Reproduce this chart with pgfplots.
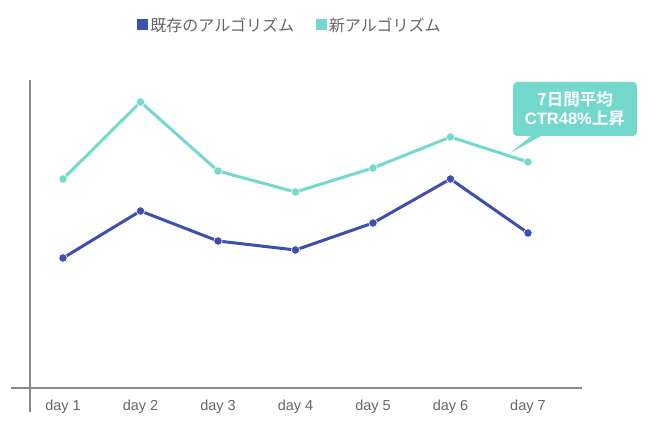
\documentclass[border=0pt]{standalone}
\usepackage{pgfplots}
\pgfplotsset{compat=1.18}
\usepackage{fontspec}
\setmainfont{Liberation Sans}
\newfontfamily\jp{Noto Sans CJK JP}[BoldFont=* Bold]
\definecolor{oldc}{HTML}{3F4FB0}
\definecolor{newc}{HTML}{74D9CC}
\definecolor{txt}{HTML}{666666}
\definecolor{axc}{HTML}{888888}
\begin{document}
\begin{tikzpicture}
\begin{axis}[
  scale only axis, width=571pt, height=308pt,
  xmin=-0.671, xmax=6.697, ymin=0, ymax=30.8,
  axis line style={draw=none},
  tick style={draw=none},
  ytick=\empty,
  xtick={0,1,2,3,4,5,6},
  xticklabels={day 1,day 2,day 3,day 4,day 5,day 6,day 7},
  xticklabel style={font=\fontsize{14.5}{16}\selectfont, text=txt, yshift=-8pt},
  clip=false,
  legend columns=2,
  legend style={at={(rel axis cs:0.4886,1.1786)}, anchor=center, draw=none, fill=none,
    font=\jp\fontsize{16}{18}\selectfont, text=txt,
    /tikz/every even column/.style={column sep=20pt}},
  legend image code/.code={\fill[#1, draw=none] (0pt,-5.5pt) rectangle (11pt,5.5pt);},
]
\path (rel axis cs:-0.019264,-0.149351) rectangle (rel axis cs:1.119089,1.259740);
\draw[axc, line width=1.3pt] (axis cs:-0.671,0) -- (axis cs:6.697,0);
\draw[axc, line width=1.3pt] (axis cs:-0.426,30.8) -- (axis cs:-0.426,-2.4);
\addplot[oldc, line width=3pt, mark=*, mark size=4.2pt, mark options={fill=oldc, draw=white, line width=0.6pt}]
  coordinates {(0,13.0) (1,17.7) (2,14.7) (3,13.8) (4,16.5) (5,20.9) (6,15.5)};
\addlegendentry{既存のアルゴリズム}
\addplot[newc, line width=3pt, mark=*, mark size=4.2pt, mark options={fill=newc, draw=white, line width=0.6pt}]
  coordinates {(0,20.9) (1,28.6) (2,21.7) (3,19.6) (4,22.0) (5,25.1) (6,22.6)};
\addlegendentry{新アルゴリズム}
\fill[newc] (axis cs:6.09,25.5) -- (axis cs:5.77,23.5) -- (axis cs:6.24,25.5) -- cycle;
\node[fill=newc, rounded corners=4pt, minimum width=124pt, minimum height=54pt, inner sep=2pt,
  text=white, align=center, font=\fontsize{16.5}{19}\selectfont\bfseries]
  at (axis cs:6.606,27.9) {{\jp\bfseries 7日間平均}\\CTR48\%{\jp\bfseries 上昇}};
\end{axis}
\end{tikzpicture}
\end{document}
